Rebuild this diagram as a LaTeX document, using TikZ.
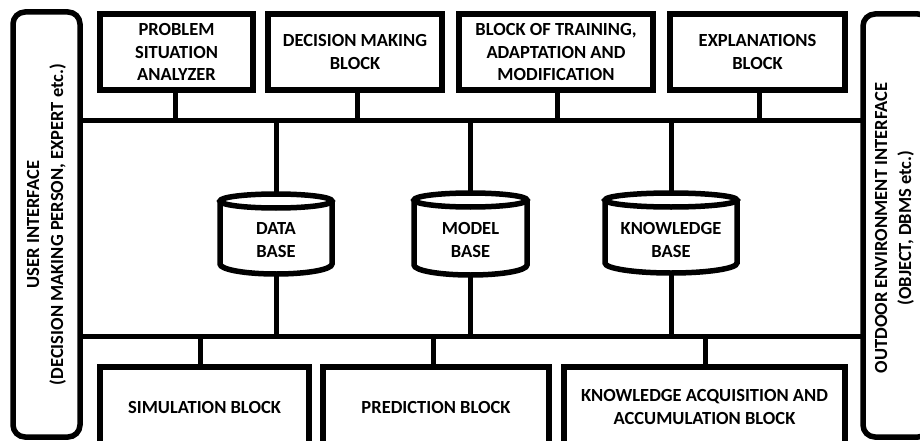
\documentclass[tikz,border=0pt]{standalone}
\usepackage{fontspec}
\setmainfont{Carlito}
\begin{document}
\begin{tikzpicture}[x=1pt,y=-1pt,
  lbl/.style={font=\bfseries\fontsize{18.5}{22.5}\selectfont, align=center, inner sep=0pt},
  vlbl/.style={font=\bfseries\fontsize{18.5}{24}\selectfont, align=center, inner sep=0pt},
  blk/.style={lbl, draw, line width=5.5pt},
  ibox/.style={vlbl, draw, line width=5.5pt, rounded corners=12pt},
  wire/.style={line width=5pt},
  cylline/.style={line width=5.5pt}]
\useasboundingbox (0,0) rectangle (920,441);
\clip (0,0) rectangle (920,441);

% interfaces
\node[ibox, rotate=90, minimum width=425pt, minimum height=67pt] (ui) at (46.5,224.5)
  {USER INTERFACE\\(DECISION MAKING PERSON, EXPERT etc.)};
\node[ibox, minimum width=67pt, minimum height=423pt] (oi) at (896.5,225.5) {};
\node[vlbl, rotate=90] (oitxt) at (894.5,228) {OUTDOOR ENVIRONMENT INTERFACE\\(OBJECT, DBMS etc.)};

% top blocks
\node[blk, minimum width=153pt, minimum height=76pt] (b1) at (176.5,52) {PROBLEM\\SITUATION\\ANALYZER};
\node[blk, minimum width=174pt, minimum height=76pt] (b2) at (355,52) {DECISION MAKING\\BLOCK};
\node[blk, minimum width=194pt, minimum height=76pt] (b3) at (556,52) {BLOCK OF TRAINING,\\ADAPTATION AND\\MODIFICATION};
\node[blk, minimum width=175pt, minimum height=76pt] (b4) at (757.5,52) {EXPLANATIONS\\BLOCK};

% bottom blocks
\node[blk, minimum width=209pt, minimum height=80pt] (s1) at (204.5,407) {SIMULATION BLOCK};
\node[blk, minimum width=226pt, minimum height=80pt] (s2) at (436,407) {PREDICTION BLOCK};
\node[blk, minimum width=281pt, minimum height=80pt] (s3) at (704.5,407) {KNOWLEDGE ACQUISITION AND\\ACCUMULATION BLOCK};

% buses
\coordinate (tbl) at (80,120.5);
\coordinate (tbr) at (863,120.5);
\coordinate (bbl) at (80,336);
\coordinate (bbr) at (863,336);
\draw[wire] (tbl) -- (tbr);
\draw[wire] (bbl) -- (bbr);

% cylinders
\node[lbl] (db) at (276,240) {DATA\\BASE};
\node[lbl] (mb) at (470.5,240) {MODEL\\BASE};
\node[lbl] (kb) at (671,240) {KNOWLEDGE\\BASE};
\draw[cylline] (276,201) ellipse [x radius=56pt, y radius=7pt];
\draw[cylline] (220,201) -- (220,264) arc [start angle=180, end angle=360, x radius=56pt, y radius=10pt] -- (332,201);
\draw[cylline] (470.5,200) ellipse [x radius=56.5pt, y radius=7pt];
\draw[cylline] (414,200) -- (414,265) arc [start angle=180, end angle=360, x radius=56.5pt, y radius=10pt] -- (527,200);
\draw[cylline] (671,200) ellipse [x radius=66pt, y radius=7pt];
\draw[cylline] (605,200) -- (605,263) arc [start angle=180, end angle=360, x radius=66pt, y radius=10pt] -- (737,200);
\coordinate (dbt) at (276,193);
\coordinate (dbb) at (276,274);
\coordinate (mbt) at (470.5,193);
\coordinate (mbb) at (470.5,275);
\coordinate (kbt) at (671,193);
\coordinate (kbb) at (671,273);

% connectors top
\coordinate (c1) at (175,120.5);
\coordinate (c2) at (357,120.5);
\coordinate (c3) at (557,120.5);
\coordinate (c4) at (759,120.5);
\draw[wire] (c1) -- (c1 |- b1.south);
\draw[wire] (c2) -- (c2 |- b2.south);
\draw[wire] (c3) -- (c3 |- b3.south);
\draw[wire] (c4) -- (c4 |- b4.south);
\draw[wire] (dbt) -- (dbt |- tbl);
\draw[wire] (mbt) -- (mbt |- tbl);
\draw[wire] (kbt) -- (kbt |- tbl);
\draw[wire] (dbb) -- (dbb |- bbl);
\draw[wire] (mbb) -- (mbb |- bbl);
\draw[wire] (kbb) -- (kbb |- bbl);

% connectors bottom
\coordinate (d1) at (200,336);
\coordinate (d2) at (433,336);
\coordinate (d3) at (705,336);
\draw[wire] (d1) -- (d1 |- s1.north);
\draw[wire] (d2) -- (d2 |- s2.north);
\draw[wire] (d3) -- (d3 |- s3.north);
\end{tikzpicture}
\end{document}
